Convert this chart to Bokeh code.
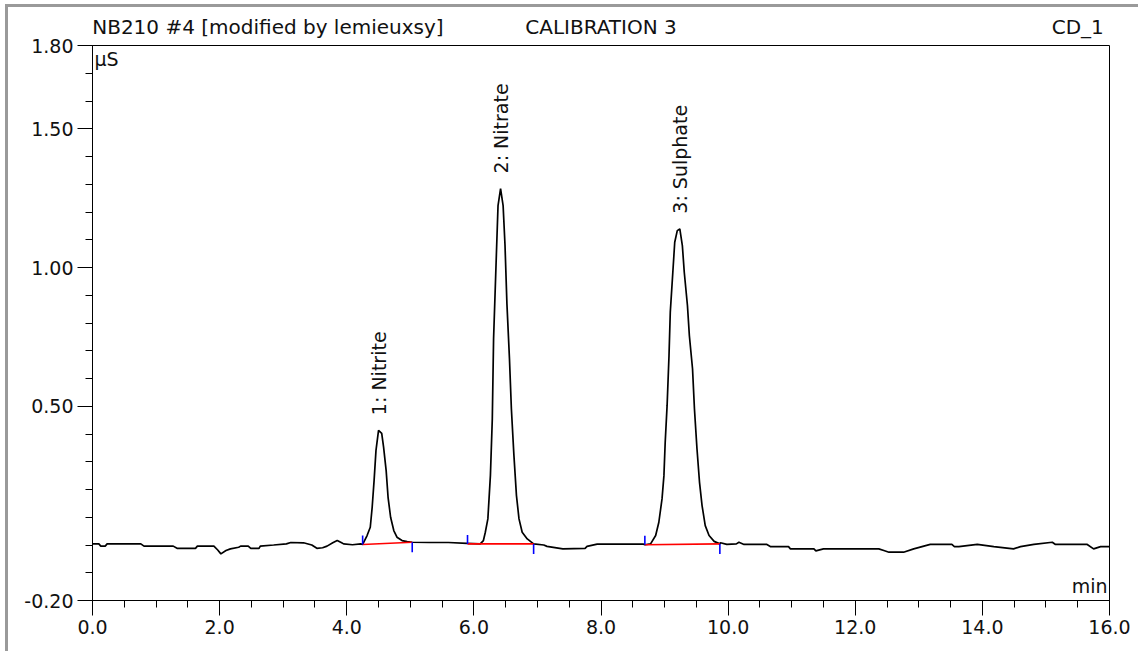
import math
from bokeh.plotting import figure
from bokeh.models import FixedTicker, NumeralTickFormatter, Label, LinearAxis
from bokeh.core.properties import value
from bokeh.embed import file_html
from bokeh.resources import INLINE

# ---- data ----
time_min = [
    0.00, 0.10, 0.13, 0.20, 0.23, 0.76, 0.81, 1.27, 1.33, 1.62, 1.65, 1.91, 1.97, 2.02, 2.10,
    2.17, 2.30, 2.33, 2.45, 2.49, 2.62, 2.64, 2.85, 3.05, 3.12, 3.32, 3.45, 3.53, 3.62, 3.69,
    3.78, 3.85, 3.92, 3.95, 4.09, 4.22,
    4.25, 4.32, 4.37, 4.40, 4.43, 4.46, 4.50, 4.55, 4.58, 4.62, 4.65, 4.69, 4.74, 4.79, 4.87,
    4.95, 5.03,
    5.30, 5.60, 5.89,
    6.10, 6.15, 6.18, 6.22, 6.26, 6.29, 6.31, 6.35, 6.38, 6.42, 6.46, 6.49, 6.52, 6.56, 6.59,
    6.63, 6.67, 6.71, 6.76, 6.84, 6.94,
    7.10, 7.15, 7.40, 7.75, 7.78, 7.94, 8.67,
    8.69, 8.78, 8.86, 8.91, 8.96, 8.99, 9.01, 9.04, 9.07, 9.09, 9.13, 9.16, 9.20, 9.24, 9.28,
    9.31, 9.36, 9.39, 9.44, 9.47, 9.51, 9.55, 9.59, 9.64, 9.70, 9.78, 9.87,
    9.88, 9.98, 10.13, 10.17, 10.25, 10.61, 10.67, 10.95, 10.98, 11.35, 11.38, 11.50, 12.37,
    12.45, 12.53, 12.76, 12.92, 13.05, 13.18, 13.52, 13.56, 13.63, 13.92, 14.18, 14.49, 14.60,
    14.81, 15.10, 15.15, 15.65, 15.75, 15.86, 16.00,
]
signal_us = [
    0.004, 0.004, -0.004, -0.004, 0.004, 0.004, -0.004, -0.004, -0.012, -0.012, -0.004, -0.004,
    -0.018, -0.032, -0.020, -0.014, -0.008, -0.004, -0.004, -0.012, -0.012, -0.004, 0.000, 0.004,
    0.009, 0.008, 0.000, -0.012, -0.010, -0.004, 0.008, 0.016, 0.008, 0.004, 0.001, 0.004,
    0.002, 0.034, 0.064, 0.136, 0.232, 0.341, 0.413, 0.402, 0.352, 0.268, 0.172, 0.100, 0.052,
    0.028, 0.016, 0.012, 0.010,
    0.009, 0.009, 0.006,
    0.004, 0.016, 0.046, 0.094, 0.250, 0.455, 0.743, 1.019, 1.223, 1.284, 1.223, 1.079, 0.869,
    0.671, 0.491, 0.323, 0.178, 0.094, 0.046, 0.022, 0.004,
    0.000, -0.005, -0.014, -0.012, -0.005, 0.003, 0.003,
    0.001, 0.004, 0.034, 0.082, 0.166, 0.250, 0.370, 0.503, 0.683, 0.839, 0.983, 1.091, 1.133,
    1.139, 1.079, 0.983, 0.863, 0.755, 0.635, 0.491, 0.347, 0.226, 0.142, 0.070, 0.034, 0.013,
    0.004,
    0.008, 0.002, 0.004, 0.010, 0.002, 0.002, -0.006, -0.006, -0.014, -0.014, -0.021, -0.014,
    -0.014, -0.020, -0.026, -0.026, -0.014, -0.006, 0.002, 0.002, -0.006, -0.006, 0.002, -0.006,
    -0.014, -0.006, 0.002, 0.010, 0.002, 0.002, -0.014, -0.006, -0.006,
]

peak_names = ["1:  Nitrite", "2:  Nitrate", "3:  Sulphate"]
peak_time = [4.50, 6.42, 9.24]
peak_height = [0.413, 1.284, 1.139]
peak_start = [4.25, 5.90, 8.69]
peak_end = [5.03, 6.94, 9.87]
base_start = [0.002, 0.004, 0.001]
base_end = [0.010, 0.004, 0.004]

header_texts = ["NB210 #4 [modified by lemieuxsy]", "CALIBRATION 3", "CD_1"]
header_pos = [2.76, 8.0, 15.5]

x_major = [0, 2, 4, 6, 8, 10, 12, 14, 16]
x_minor = [i * 0.5 for i in range(33)]
y_major = [-0.2, 0.5, 1.0, 1.5, 1.8]
y_minor = [round(-0.2 + i * 0.1, 2) for i in range(21)]

FONT = "DejaVu Sans"
TXT = "#111111"

p = figure(x_range=(0, 16), y_range=(-0.2, 1.8),
           frame_width=1017, frame_height=555,
           min_border_left=84, min_border_right=29, min_border_top=38, min_border_bottom=51,
           output_backend="svg", toolbar_location=None)
p.styles = {"margin-left": "5px", "margin-top": "4px",
            "border-left": "3px solid #9a9a9a", "border-top": "3px solid #9a9a9a"}
p.grid.visible = False
p.background_fill_color = "white"
p.border_fill_color = "white"
p.outline_line_color = "black"
p.outline_line_width = 1
p.outline_line_alpha = 1

for ax in (p.xaxis[0], p.yaxis[0]):
    ax.axis_line_color = "black"
    ax.major_tick_line_color = "black"
    ax.minor_tick_line_color = "black"
    ax.major_tick_in = 0
    ax.major_tick_out = 15
    ax.minor_tick_in = 0
    ax.minor_tick_out = 7
    ax.major_label_text_font = FONT
    ax.major_label_text_font_size = "19px"
    ax.major_label_text_color = TXT
    ax.major_label_text_font_style = "normal"

p.xaxis.ticker = FixedTicker(ticks=x_major, minor_ticks=x_minor)
p.xaxis.formatter = NumeralTickFormatter(format="0.0")
p.xaxis.major_label_standoff = 4
p.yaxis.ticker = FixedTicker(ticks=y_major, minor_ticks=y_minor)
p.yaxis.formatter = NumeralTickFormatter(format="0.00")
p.yaxis.major_label_standoff = 4

# header line rendered as an unlined axis above the frame
top_axis = LinearAxis(ticker=FixedTicker(ticks=header_pos, minor_ticks=[]),
                      major_label_overrides=dict(zip(header_pos, header_texts)))
top_axis.axis_line_color = None
top_axis.major_tick_line_color = None
top_axis.minor_tick_line_color = None
top_axis.major_tick_out = 0
top_axis.major_tick_in = 0
top_axis.major_label_standoff = 7
top_axis.major_label_text_font = FONT
top_axis.major_label_text_font_size = "20px"
top_axis.major_label_text_color = TXT
top_axis.major_label_text_font_style = "normal"
p.add_layout(top_axis, "above")

# chromatogram trace
p.line(time_min, signal_us, line_color="black", line_width=1.7)

# integration baselines (red)
p.segment(x0=peak_start, y0=base_start, x1=peak_end, y1=base_end,
          line_color="#ff0000", line_width=1.6)
# peak delimiters (blue)
p.segment(x0=peak_start, y0=base_start, x1=peak_start,
          y1=[b + 0.032 for b in base_start], line_color="#0000ff", line_width=1.6)
p.segment(x0=peak_end, y0=base_end, x1=peak_end,
          y1=[b - 0.036 for b in base_end], line_color="#0000ff", line_width=1.6)

# peak labels, rotated
p.text(x=peak_time, y=[h + 0.055 for h in peak_height], text=peak_names,
       angle=math.pi / 2, text_align="left", text_baseline="middle",
       text_font=value(FONT), text_font_size="19px", text_color=TXT)

# axis unit labels inside frame
p.add_layout(Label(x=0, y=1.8, text="µS", text_align="left", text_baseline="top",
                   x_offset=2, y_offset=-2, text_font=FONT, text_font_size="19px",
                   text_color=TXT))
p.add_layout(Label(x=16, y=-0.2, text="min", text_align="right", text_baseline="bottom",
                   x_offset=-2, y_offset=4, text_font=FONT, text_font_size="19px",
                   text_color=TXT))

open("out.html", "w").write(file_html(p, INLINE))
